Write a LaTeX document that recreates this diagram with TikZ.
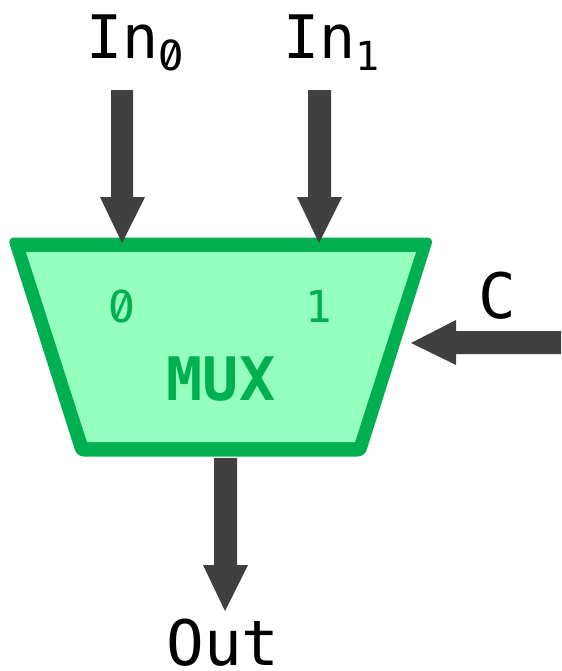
\documentclass[tikz,border=0pt]{standalone}
\usepackage{fontspec}
\setmainfont{DejaVu Sans Mono}
\newfontfamily\zerofont[Numbers={Lining,SlashedZero}]{Fira Sans}
\definecolor{muxfill}{HTML}{94FFBE}
\definecolor{muxline}{HTML}{00B050}
\definecolor{arrowc}{HTML}{404040}
\tikzset{
  x=0.75pt,y=-0.75pt,
  muxouter/.style={fill=muxline,rounded corners=5pt},
  muxinner/.style={fill=muxfill},
  flow/.style={draw=none,fill=arrowc},
  lbl/.style={inner sep=0pt,outer sep=0pt,text=black,font=\fontsize{47}{47}\selectfont},
  lblin/.style={inner sep=0pt,outer sep=0pt,text=black,font=\fontsize{45}{45}\selectfont},
  muxtxt/.style={inner sep=0pt,outer sep=0pt,text=muxline,font=\fontsize{33}{33}\selectfont},
  muxzero/.style={inner sep=0pt,outer sep=0pt,text=muxline,font=\fontsize{36}{36}\selectfont\zerofont},
  muxname/.style={inner sep=0pt,outer sep=0pt,text=muxline,font=\fontsize{45}{45}\selectfont\bfseries},
}
\newcommand{\subzero}{\raisebox{-9pt}{\fontsize{34}{34}\selectfont\zerofont 0}}
\newcommand{\subone}{\raisebox{-9pt}{\fontsize{30}{30}\selectfont 1}}
\begin{document}
\begin{tikzpicture}
\useasboundingbox (0,0) rectangle (561,671);
\fill[muxouter] (7.6,237.5) -- (433.7,237.5) -- (364.6,456.5) -- (77,456.5) -- cycle;
\fill[muxinner] (26,252) -- (416,252) -- (355,442) -- (87,442) -- cycle;
\fill[flow] (111,90) -- (133,90) -- (133,197) -- (145,197) -- (122,243) -- (100,197) -- (111,197) -- cycle;
\fill[flow] (308,90) -- (331,90) -- (331,197) -- (342,197) -- (319,243) -- (297,197) -- (308,197) -- cycle;
\fill[flow] (561,331) -- (456,331) -- (456,320) -- (411,343) -- (456,365) -- (456,354) -- (561,354) -- cycle;
\fill[flow] (214,458) -- (237,458) -- (237,565) -- (248,565) -- (225,611) -- (203,565) -- (214,565) -- cycle;
\node[lblin,anchor=base west] (in0) at (86,58) {In\subzero};
\node[lblin,anchor=base west] (in1) at (283,58) {In\subone};
\node[lbl,anchor=base] (c) at (497,318) {C};
\node[lbl,anchor=base] (out) at (223,665) {Out};
\node[muxzero,anchor=base] (m0) at (122,322) {0};
\node[muxtxt,anchor=base] (m1) at (319,322) {1};
\node[muxname,anchor=base] (mux) at (221,400) {MUX};
\end{tikzpicture}
\end{document}
